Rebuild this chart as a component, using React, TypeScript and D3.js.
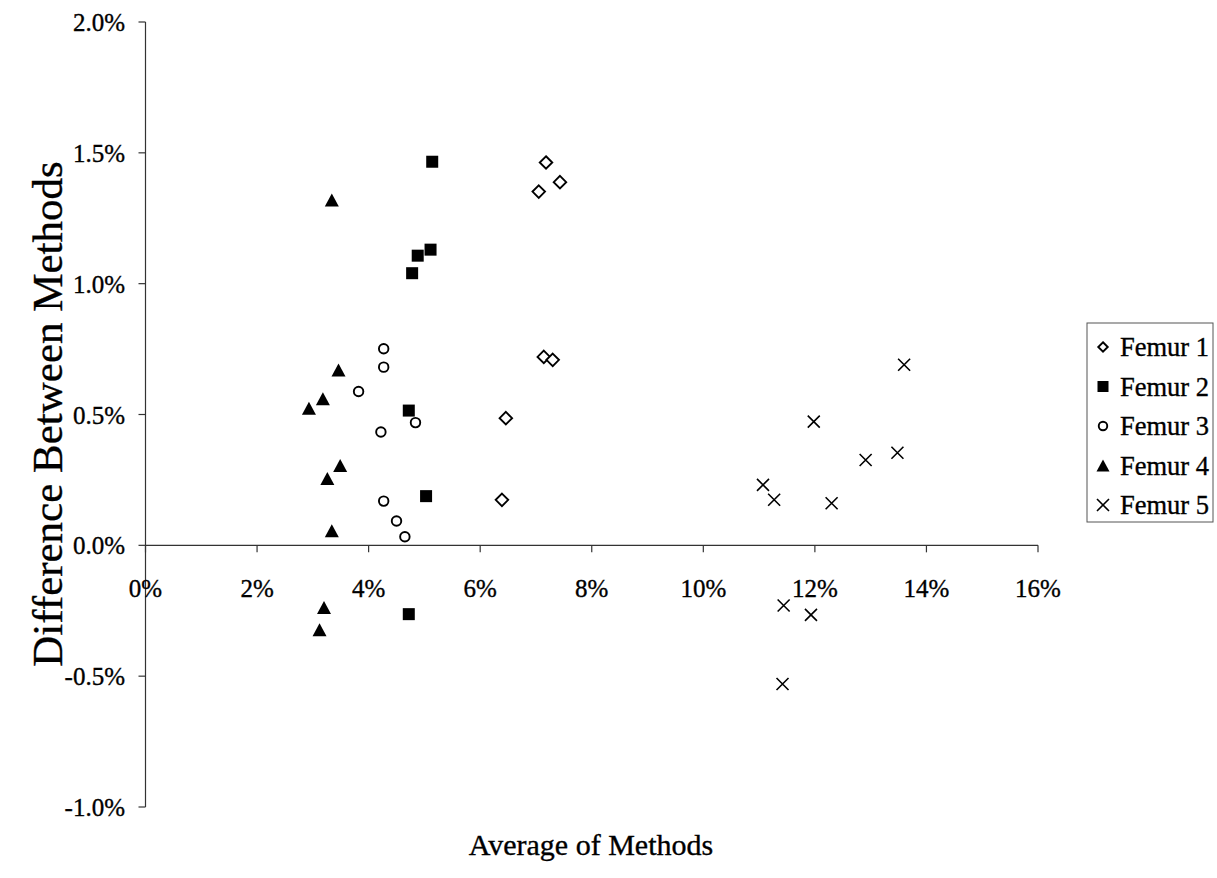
import React from "react";
import * as d3 from "d3";

// Data: [average %, difference %]
const femur1: [number, number][] = [
  [7.18, 1.463], [7.05, 1.352], [7.43, 1.388], [7.14, 0.72], [7.30, 0.709], [6.46, 0.486], [6.39, 0.174],
];
const femur2: [number, number][] = [
  [5.14, 1.466], [5.11, 1.13], [4.88, 1.107], [4.78, 1.04], [4.72, 0.515], [5.03, 0.188], [4.72, -0.263],
];
const femur3: [number, number][] = [
  [4.27, 0.751], [4.27, 0.681], [3.82, 0.588], [4.84, 0.469], [4.22, 0.433], [4.27, 0.169], [4.5, 0.093], [4.65, 0.033],
];
const femur4: [number, number][] = [
  [3.34, 1.32], [3.46, 0.67], [3.18, 0.56], [2.93, 0.524], [3.49, 0.305], [3.26, 0.255], [3.34, 0.056], [3.2, -0.238], [3.12, -0.323],
];
const femur5: [number, number][] = [
  [13.6, 0.69], [11.98, 0.473], [12.91, 0.326], [13.48, 0.354], [11.07, 0.231], [11.27, 0.174], [12.3, 0.161], [11.44, -0.23], [11.93, -0.266], [11.42, -0.53],
];

const seriesNames = ["Femur 1", "Femur 2", "Femur 3", "Femur 4", "Femur 5"];
const seriesData = [femur1, femur2, femur3, femur4, femur5];
const markerTypes = ["diamond", "square", "circle", "triangle", "cross"];

const xTicks = [0, 2, 4, 6, 8, 10, 12, 14, 16];
const yTicks = [-1.0, -0.5, 0.0, 0.5, 1.0, 1.5, 2.0];

const FONT = "'Liberation Serif', 'Times New Roman', Times, serif";

function Marker({ type, cx, cy, s }: { type: string; cx: number; cy: number; s: number }) {
  const h = s / 2;
  switch (type) {
    case "diamond":
      return (
        <path
          d={`M${cx},${cy - h}L${cx + h},${cy}L${cx},${cy + h}L${cx - h},${cy}Z`}
          fill="#fff"
          stroke="#000"
          strokeWidth={1.9}
        />
      );
    case "square":
      return <rect x={cx - h} y={cy - h} width={s} height={s} fill="#000" />;
    case "circle":
      return <circle cx={cx} cy={cy} r={h - 1} fill="#fff" stroke="#000" strokeWidth={1.9} />;
    case "triangle":
      return (
        <path
          d={`M${cx},${cy - h}L${cx + h + 0.5},${cy + h}L${cx - h - 0.5},${cy + h}Z`}
          fill="#000"
        />
      );
    case "cross":
      return (
        <path
          d={`M${cx - h},${cy - h}L${cx + h},${cy + h}M${cx - h},${cy + h}L${cx + h},${cy - h}`}
          stroke="#000"
          strokeWidth={1.6}
          fill="none"
        />
      );
    default:
      return null;
  }
}

export default function App() {
  const W = 1217;
  const H = 878;
  const x = d3.scaleLinear().domain([0, 16]).range([145.5, 1038]);
  const y = d3.scaleLinear().domain([-1, 2]).range([807, 22]);
  const y0 = y(0);
  const plotSizes = [12.5, 12, 11.5, 13, 12];
  const legendSizes = [9.5, 11, 10.5, 12, 12];

  const legendX = 1087;
  const legendTop = 323;
  const legendRowY = (i: number) => 347 + i * 39.5;
  const txtStroke = { stroke: "#000", strokeWidth: 0.35 };

  return (
    <svg
      width={W}
      height={H}
      style={{ position: "absolute", left: 0, top: 0, background: "#fff" }}
      fontFamily={FONT}
    >
      <rect x={0} y={0} width={W} height={H} fill="#fff" />
      {/* Y axis */}
      <line x1={x(0)} x2={x(0)} y1={y(2)} y2={y(-1)} stroke="#333" strokeWidth={1.2} />
      {yTicks.map((t) => (
        <g key={"yt" + t}>
          <line x1={x(0) - 7} x2={x(0)} y1={y(t)} y2={y(t)} stroke="#333" strokeWidth={1.2} />
          <text x={125} y={y(t) + 9} textAnchor="end" fontSize={25} fill="#000" {...txtStroke}>
            {t.toFixed(1) + "%"}
          </text>
        </g>
      ))}
      {/* X axis at zero */}
      <line x1={x(0)} x2={x(16)} y1={y0} y2={y0} stroke="#333" strokeWidth={1.2} />
      {xTicks.map((t) => (
        <g key={"xt" + t}>
          <line x1={x(t)} x2={x(t)} y1={y0} y2={y0 + 7} stroke="#333" strokeWidth={1.2} />
          <text x={x(t)} y={y0 + 52} textAnchor="middle" fontSize={25} fill="#000" {...txtStroke}>
            {t + "%"}
          </text>
        </g>
      ))}
      {/* Points */}
      {seriesData.map((pts, si) =>
        pts.map((p, pi) => (
          <Marker key={si + "-" + pi} type={markerTypes[si]} cx={x(p[0])} cy={y(p[1])} s={plotSizes[si]} />
        ))
      )}
      {/* Axis titles */}
      <text x={591} y={855} textAnchor="middle" fontSize={30} fill="#000" {...txtStroke}>
        Average of Methods
      </text>
      <text
        transform={`translate(62,414) rotate(-90)`}
        textAnchor="middle"
        fontSize={43}
        fill="#000"
        {...txtStroke}
      >
        Difference Between Methods
      </text>
      {/* Legend */}
      <rect x={legendX} y={legendTop} width={1213 - legendX} height={522 - legendTop} fill="#fff" stroke="#555" strokeWidth={1} />
      {seriesNames.map((n, i) => (
        <g key={"lg" + i}>
          <Marker type={markerTypes[i]} cx={1103} cy={legendRowY(i)} s={legendSizes[i]} />
          <text x={1120} y={legendRowY(i) + 9} fontSize={26.5} fill="#000" {...txtStroke}>
            {n}
          </text>
        </g>
      ))}
    </svg>
  );
}
